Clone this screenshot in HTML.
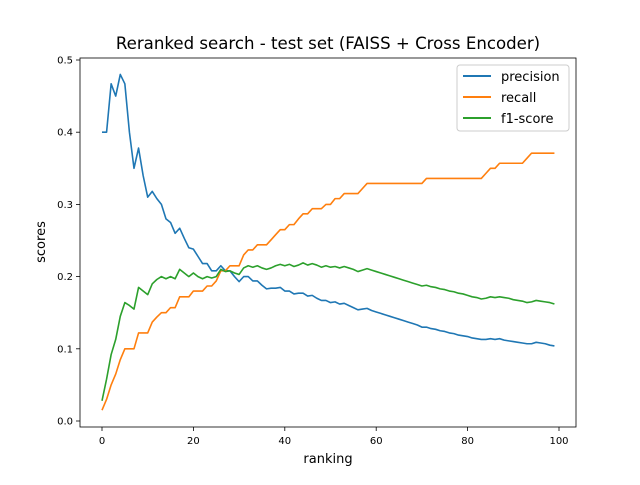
<!DOCTYPE html>
<html><head><meta charset="utf-8"><style>
html,body{margin:0;padding:0;background:#fff;}
svg text{font-family:"DejaVu Sans","Liberation Sans",sans-serif;}
</style></head><body>
<svg id="chart" width="640" height="480" xmlns="http://www.w3.org/2000/svg">
<rect width="640" height="480" fill="#fff"/>
<text x="328" y="49" text-anchor="middle" font-size="16.6">Reranked search - test set (FAISS + Cross Encoder)</text>
<g id="plot"></g>
<text x="328" y="463" text-anchor="middle" font-size="13">ranking</text>
<text x="45" y="242" text-anchor="middle" font-size="13" transform="rotate(-90 45 242)">scores</text>
<g>
<rect x="457" y="65" width="112" height="66" rx="3" fill="#fff" stroke="#ccc"/>
<line x1="463" y1="76" x2="491" y2="76" stroke="#1f77b4" stroke-width="2"/>
<text x="501" y="81" font-size="13">precision</text>
<line x1="463" y1="97" x2="491" y2="97" stroke="#ff7f0e" stroke-width="2"/>
<text x="501" y="102" font-size="13">recall</text>
<line x1="463" y1="118" x2="491" y2="118" stroke="#2ca02c" stroke-width="2"/>
<text x="501" y="123" font-size="13">f1-score</text>
</g>
</svg>
<script>
const precision=[0.4,0.4,0.467,0.45,0.48,0.467,0.4,0.35,0.378,0.34,
0.31,0.318,0.308,0.30,0.28,0.275,0.26,0.267,0.253,0.24,
0.238,0.228,0.218,0.218,0.208,0.208,0.215,0.208,0.208,0.2,
0.193,0.2,0.2,0.194,0.194,0.188,0.183,0.184,0.184,0.185,
0.18,0.18,0.176,0.177,0.177,0.173,0.174,0.17,0.167,0.167,
0.164,0.165,0.162,0.163,0.16,0.157,0.154,0.155,0.156,0.153,
0.151,0.149,0.147,0.145,0.143,0.141,0.139,0.137,0.135,0.133,
0.130,0.130,0.128,0.127,0.125,0.124,0.122,0.121,0.119,0.118,
0.117,0.115,0.114,0.113,0.113,0.114,0.113,0.114,0.112,0.111,
0.110,0.109,0.108,0.107,0.107,0.109,0.108,0.107,0.105,0.104];
const recall=[0.015,0.03,0.05,0.065,0.085,0.1,0.1,0.1,0.122,0.122,
0.122,0.137,0.144,0.15,0.15,0.157,0.157,0.172,0.172,0.172,
0.18,0.18,0.18,0.187,0.187,0.194,0.208,0.208,0.215,0.215,
0.215,0.23,0.237,0.237,0.244,0.244,0.244,0.251,0.258,0.265,
0.265,0.272,0.272,0.28,0.287,0.287,0.294,0.294,0.294,0.3,
0.3,0.308,0.308,0.315,0.315,0.315,0.315,0.322,0.329,0.329,
0.329,0.329,0.329,0.329,0.329,0.329,0.329,0.329,0.329,0.329,
0.329,0.336,0.336,0.336,0.336,0.336,0.336,0.336,0.336,0.336,
0.336,0.336,0.336,0.336,0.343,0.35,0.35,0.357,0.357,0.357,
0.357,0.357,0.357,0.364,0.371,0.371,0.371,0.371,0.371,0.371];
const f1score=[0.028,0.058,0.092,0.113,0.145,0.164,0.16,0.155,0.185,0.18,
0.175,0.19,0.196,0.2,0.197,0.2,0.197,0.21,0.205,0.2,
0.205,0.2,0.197,0.2,0.198,0.2,0.21,0.207,0.208,0.205,
0.203,0.212,0.215,0.213,0.215,0.212,0.21,0.212,0.215,0.217,
0.215,0.217,0.214,0.216,0.219,0.216,0.218,0.216,0.213,0.215,
0.213,0.214,0.212,0.214,0.212,0.21,0.207,0.209,0.211,0.209,
0.207,0.205,0.203,0.201,0.199,0.197,0.195,0.193,0.191,0.189,
0.187,0.188,0.186,0.185,0.183,0.182,0.180,0.179,0.177,0.176,
0.174,0.172,0.171,0.169,0.170,0.172,0.171,0.172,0.171,0.170,
0.168,0.167,0.166,0.164,0.165,0.167,0.166,0.165,0.164,0.162];
const xTicks=[0,20,40,60,80,100];
const yTicks=[0.0,0.1,0.2,0.3,0.4,0.5];
const seriesColors=["#1f77b4","#ff7f0e","#2ca02c"];

const L=80,R=576,T=58,B=427;
function sx(v){return 102+(v/100)*(559-102);}
function sy(v){return 421-(v/0.5)*(421-60);}
const NS="http://www.w3.org/2000/svg";
const g=document.getElementById('plot');
function mk(tag,attrs){const e=document.createElementNS(NS,tag);for(const k in attrs)e.setAttribute(k,attrs[k]);g.appendChild(e);return e;}
xTicks.forEach(t=>{
  const x=sx(t);
  const l=mk('line',{x1:x,y1:B,x2:x,y2:B+4,stroke:'#000','stroke-width':0.8});
  
  
  const tx=mk('text',{x:x,y:B+17,'text-anchor':'middle','font-size':10});
  tx.textContent=String(t);
  
  
});
yTicks.forEach(t=>{
  const y=sy(t);
  const l=mk('line',{x1:L-4,y1:y,x2:L,y2:y,stroke:'#000','stroke-width':0.8});
  
  
  const tx=mk('text',{x:L-7,y:y+3.5,'text-anchor':'end','font-size':10});
  tx.textContent=t.toFixed(1);
  
  
});
[precision,recall,f1score].forEach((s,i)=>{
  const pts=s.map((v,j)=>sx(j).toFixed(2)+','+sy(v).toFixed(2)).join(' ');
  const p=mk('polyline',{points:pts,fill:'none',stroke:seriesColors[i],'stroke-width':1.6,'stroke-linejoin':'round'});
  
  
});
const fr=mk('rect',{x:L,y:T,width:R-L,height:B-T,fill:'none',stroke:'#000','stroke-width':0.8});


</script>
</body></html>
